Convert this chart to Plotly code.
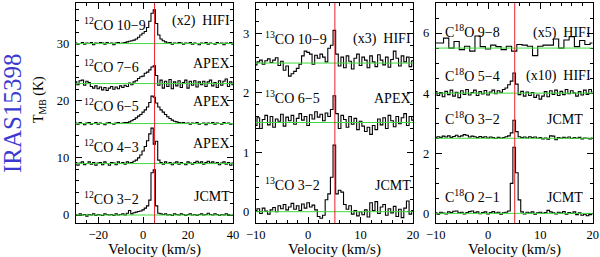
import numpy as np
import plotly.graph_objects as go

# ---------------- data ----------------
V_LSR = 5.1

# Panel 1 : 12CO, channels from -30 km/s, 1 km/s wide
co12_v0, co12_dv = -30.0, 1.0
co12_32 = [0.1, -0.1, 0.2, 0.0, 0.1, -0.2, 0.1, 0.0, 0.2, -0.1, 0.1, 0.0, -0.1, 0.2, 0.1, 0.0,
           0.1, -0.1, 0.2, 0.0, 0.1, 0.2, 0.0, 0.3, 0.8, 0.2, 0.4, 0.5, 0.6, 0.7, 0.9, 1.2,
           1.6, 2.6, 7.4, 7.9, 1.6, 0.3, 0.2, 0.1, 0.2, 0.0, 0.1, -0.1, 0.2, 0.1, 0.0, 0.2,
           0.1, -0.1, 0.1, 0.2, 0.0, 0.1, -0.1, 0.1, 0.2, 0.0, 0.1, 0.3, 0.1, 0.0, 0.2, 0.1,
           -0.1, 0.1, 0.0, 0.2, 0.1, -0.1, 0.0]
co12_43 = [0.2, -0.3, 0.1, 0.3, -0.2, 0.0, 0.3, -0.1, 0.2, -0.3, 0.1, 0.2, -0.2, 0.3, 0.0, -0.3,
           0.2, 0.1, -0.2, 0.3, 0.0, 0.2, -0.1, 0.3, 0.1, 0.2, 0.4, 0.6, 1.0, 1.5, 2.2, 3.0,
           4.0, 5.2, 6.2, 3.4, 3.9, 0.6, 0.2, -0.1, 0.3, 0.0, 0.2, -0.2, 0.1, 0.3, -0.1, 0.2,
           0.0, -0.2, 0.3, 0.1, -0.1, 0.2, 0.4, 0.1, 0.3, -0.1, 0.2, 0.4, 0.1, 0.3, 0.0, 0.2,
           -0.2, 0.1, 0.3, -0.1, 0.2, -0.3, 0.1]
co12_65 = [0.1, -0.1, 0.2, 0.0, -0.2, 0.1, 0.2, -0.1, 0.0, 0.2, -0.1, 0.1, 0.0, -0.2, 0.1, 0.2,
           0.0, -0.1, 0.1, 0.2, 0.0, 0.1, 0.2, 0.2, 0.3, 0.5, 0.7, 1.0, 1.3, 1.6, 2.0, 2.4,
           2.9, 3.7, 4.8, 4.6, 3.6, 2.9, 2.4, 2.0, 1.6, 1.2, 0.9, 0.6, 0.4, 0.3, 0.2, 0.1,
           0.2, 0.0, 0.1, -0.1, 0.1, 0.0, 0.2, -0.1, 0.0, 0.1, -0.2, 0.1, 0.0, 0.2, -0.1, 0.1,
           0.0, -0.1, 0.2, 0.0, 0.1, -0.1, 0.0]
co12_76 = [0.3, -0.2, 0.5, 0.6, -0.3, 0.4, 0.2, -0.5, -0.8, -0.4, -0.9, -0.6, -1.1, -0.7, -1.2, -0.8,
           -0.5, -1.0, -0.6, -0.9, -0.4, -0.7, -0.3, -0.5, 0.1, -0.2, 0.3, 0.5, 0.9, 1.2, 1.3, 1.8,
           2.0, 2.4, 2.9, 3.1, 1.4, -0.3, 0.6, -0.8, 0.4, -0.5, 0.7, -0.9, 0.3, -0.4, 0.5, -0.7,
           0.2, 0.6, -0.8, 0.4, -0.3, 0.5, -0.6, 0.3, -0.2, 0.4, -0.5, 0.3, 0.6, -0.4, 0.2, -0.7,
           0.5, -0.3, 0.4, 0.8, -0.5, 0.3, -0.2]
co12_109 = [0.1, -0.1, 0.0, 0.2, -0.1, 0.1, 0.0, 0.2, -0.2, 0.1, 0.0, 0.2, 0.1, -0.1, 0.2, 0.0,
            0.1, -0.2, 0.1, 0.2, 0.0, 0.1, 0.2, 0.3, 0.4, 0.5, 0.6, 0.8, 1.1, 1.5, 1.8, 2.1,
            2.8, 3.9, 5.3, 5.9, 3.5, 1.5, 0.8, 0.5, 0.3, 0.1, 0.2, -0.1, 0.1, 0.0, 0.2, 0.1,
            -0.1, 0.1, 0.0, 0.2, -0.1, 0.1, 0.0, -0.2, 0.1, 0.0, 0.2, -0.1, 0.1, 0.0, -0.1, 0.2,
            0.0, 0.1, -0.2, 0.1, 0.0, 0.2, -0.1]
co12_offsets = [0, 9, 16, 23, 30]
co12_names = ["<sup>12</sup>CO 3−2", "<sup>12</sup>CO 4−3", "<sup>12</sup>CO 6−5",
              "<sup>12</sup>CO 7−6", "<sup>12</sup>CO 10−9"]
co12_tags = ["JCMT", "APEX", "APEX", "APEX", "(x2)  HIFI"]

# Panel 2 : 13CO, channels from -10 km/s, 0.5 km/s wide
co13_v0, co13_dv = -10.0, 0.5
co13_32 = [0.02, 0.05, -0.03, 0.06, 0.01, -0.04, 0.03, 0.07, 0.0, 0.1, 0.05, 0.12, 0.03, 0.08, 0.14, 0.04,
           0.1, 0.02, 0.13, 0.06, 0.15, 0.08, 0.11, 0.03, -0.08, -0.11, -0.06, 0.2, 0.3, 0.58, 1.12, 0.3,
           0.36, 0.33, 0.12, 0.04, 0.1, -0.04, 0.02, -0.07, 0.0, -0.05, 0.03, -0.09, 0.15, 0.02, 0.17, -0.03,
           0.08, 0.12, -0.06, 0.05, -0.02, 0.09, -0.08, 0.04, -0.1, 0.06, 0.18, -0.04, 0.02]
co13_65 = [-0.05, 0.08, -0.1, 0.05, 0.12, -0.04, 0.1, -0.08, 0.06, 0.02, 0.14, -0.06, 0.09, 0.03, 0.12, -0.03,
           0.07, 0.15, 0.04, 0.1, -0.05, 0.13, 0.06, 0.18, 0.09, 0.14, 0.03, 0.16, 0.1, 0.22, 0.45, 0.15,
           -0.1, 0.12, 0.05, -0.08, 0.1, -0.03, 0.07, -0.12, 0.02, -0.06, -0.15, -0.08, -0.2, -0.05, -0.12, 0.06,
           -0.04, 0.08, -0.1, 0.12, 0.03, -0.07, 0.1, -0.02, 0.08, 0.15, -0.05, 0.1, 0.04]
co13_109 = [-0.03, 0.02, 0.05, -0.02, 0.04, 0.07, 0.01, 0.05, 0.09, -0.04, 0.03, -0.12, -0.05, -0.22, -0.18, -0.14,
            -0.09, -0.02, 0.12, 0.2, 0.18, 0.15, -0.02, 0.13, 0.08, 0.15, 0.1, 0.02, 0.25, 0.3, 0.55, 0.15,
            -0.05, 0.1, -0.08, 0.12, 0.03, -0.1, 0.08, 0.15, -0.04, 0.1, 0.05, -0.08, 0.12, 0.02, -0.06, 0.14,
            0.05, -0.03, 0.1, -0.07, 0.06, 0.2, 0.08, -0.05, 0.12, 0.02, 0.1, -0.06, 0.04]
co13_offsets = [0, 1.5, 2.5]
co13_names = ["<sup>13</sup>CO 3−2", "<sup>13</sup>CO 6−5", "<sup>13</sup>CO 10−9"]
co13_tags = ["JCMT", "APEX", "(x3)  HIFI"]

# Panel 3 : C18O
c18o_v0, c18o_dv = -10.0, 0.5
c18o_21 = [0.02, -0.03, 0.04, 0.01, -0.02, 0.05, 0.03, 0.07, 0.08, 0.02, 0.04, -0.02, 0.03, 0.06, 0.08, 0.02,
           0.05, -0.01, 0.03, 0.05, -0.02, 0.03, 0.06, 0.01, 0.04, -0.03, 0.02, 0.04, 0.08, 1.0, 2.2, 1.35,
           0.45, 0.05, -0.02, 0.04, 0.01, 0.05, -0.03, 0.02, 0.04, 0.0, 0.03, 0.1, 0.05, 0.02, -0.02, 0.04,
           0.01, 0.06, -0.03, 0.03, 0.0, 0.05, -0.04, 0.02, -0.06, -0.03, -0.08, -0.04, -0.02]
c18o_32 = [0.02, 0.05, 0.03, 0.07, 0.04, 0.08, 0.03, 0.06, 0.1, 0.05, 0.08, 0.12, 0.1, 0.04, 0.07, 0.05,
           0.02, 0.06, 0.03, 0.05, 0.01, 0.04, 0.02, -0.01, 0.03, 0.0, 0.02, 0.05, 0.08, 0.18, 0.6, 0.22,
           0.05, 0.02, 0.04, 0.01, 0.05, 0.02, 0.04, 0.0, 0.02, -0.02, 0.01, -0.03, 0.08, 0.07, -0.05, 0.02,
           0.0, 0.03, 0.01, 0.04, -0.01, 0.02, 0.0, 0.03, -0.02, 0.01, 0.0, -0.02, 0.01]
c18o_54 = [0.05, -0.08, 0.02, -0.12, 0.06, -0.05, 0.1, -0.1, 0.03, -0.15, 0.08, -0.04, 0.12, -0.06, 0.02, 0.1,
           -0.08, 0.05, -0.03, 0.09, -0.06, 0.04, 0.1, -0.02, 0.08, 0.03, 0.12, 0.17, 0.28, 0.4, 0.67, 0.3,
           -0.05, 0.06, -0.1, 0.04, -0.08, 0.02, -0.14, -0.06, -0.2, -0.1, 0.05, -0.12, 0.08, -0.04, 0.1, -0.08,
           0.06, -0.05, 0.12, -0.02, 0.08, 0.0, -0.1, 0.05, -0.06, 0.1, -0.04, 0.12, 0.04]
c18o98_v0, c18o98_dv = -10.0, 1.0
c18o_98 = [0.17, 0.17, 0.33, 0.0, 0.22, -0.05, 0.06, -0.1, 0.4, 0.05, -0.03, 0.1, 0.05, -0.05, 0.06, -0.1,
           0.12, 0.1, 0.06, -0.25, 0.06, 0.1, 0.1, 0.3, 0.0, 0.27, 0.38, 0.05, 0.25, 0.12, 0.17]
c18o_offsets = [0, 2.5, 4, 5.5]
c18o_names = ["C<sup>18</sup>O 2−1", "C<sup>18</sup>O 3−2", "C<sup>18</sup>O 5−4", "C<sup>18</sup>O 9−8"]
c18o_tags = ["JCMT", "JCMT", "(x10)  HIFI", "(x5)  HIFI"]

# ---------------- figure ----------------
W, H = 600, 257
FONT = "Liberation Serif"
fig = go.Figure()

panels = [
    dict(ax="", v0=[co12_v0] * 5, dv=[co12_dv] * 5,
         specs=[co12_32, co12_43, co12_65, co12_76, co12_109], offs=co12_offsets,
         xr=[-30, 40], yr=[-1.4, 37.1], xd=[75.7, 233.0], xdt=20, xm=5, ydt=10, ym=2),
    dict(ax="2", v0=[co13_v0] * 3, dv=[co13_dv] * 3,
         specs=[co13_32, co13_65, co13_109], offs=co13_offsets,
         xr=[-10, 20], yr=[-0.19, 3.51], xd=[255.7, 413.0], xdt=10, xm=2, ydt=1, ym=0.2),
    dict(ax="3", v0=[c18o_v0, c18o_v0, c18o_v0, c18o98_v0], dv=[c18o_dv, c18o_dv, c18o_dv, c18o98_dv],
         specs=[c18o_21, c18o_32, c18o_54, c18o_98], offs=c18o_offsets,
         xr=[-10, 20], yr=[-0.32, 7.0], xd=[435.7, 592.7], xdt=10, xm=2, ydt=2, ym=0.5),
]

top_px, bot_px = 3.0, 223.0
for p in panels:
    xa, ya = "x" + p["ax"], "y" + p["ax"]
    for spec, off, v0, dv in zip(p["specs"], p["offs"], p["v0"], p["dv"]):
        vel = v0 + dv * np.arange(len(spec))
        fig.add_trace(go.Scatter(x=vel, y=np.array(spec) + off, mode="lines",
                                 line=dict(color="black", width=1.1, shape="hvh"),
                                 xaxis=xa, yaxis=ya, showlegend=False, hoverinfo="skip"))
        fig.add_shape(type="line", xref=xa + " domain", yref=ya, x0=0, x1=1, y0=off, y1=off,
                      line=dict(color="#3ddc3d", width=1), layer="above")
    fig.add_shape(type="line", xref=xa, yref=ya + " domain", x0=V_LSR, x1=V_LSR, y0=0, y1=1,
                  line=dict(color="#e8202a", width=1), layer="above")
    axcommon = dict(showline=True, linecolor="black", linewidth=1, mirror="allticks",
                    ticks="inside", ticklen=6, tickcolor="black", showgrid=False, zeroline=False,
                    tickfont=dict(family=FONT, size=12.5, color="black"), automargin=False)
    xkey = "xaxis" + p["ax"]
    ykey = "yaxis" + p["ax"]
    fig.update_layout(**{
        xkey: dict(range=p["xr"], domain=[p["xd"][0] / W, p["xd"][1] / W], anchor=ya,
                   dtick=p["xdt"], tick0=0, ticklabelstandoff=0,
                   minor=dict(dtick=p["xm"], ticks="inside", ticklen=3, tickcolor="black"),
                   **axcommon),
        ykey: dict(range=p["yr"], domain=[(H - bot_px) / H, (H - top_px) / H], anchor=xa,
                   dtick=p["ydt"], tick0=0, ticklabelstandoff=3,
                   minor=dict(dtick=p["ym"], ticks="inside", ticklen=3, tickcolor="black"),
                   **axcommon),
    })

# line labels (pixel positions of the text)
def label(text, xpx, ypx, anchor):
    fig.add_annotation(text=text, xref="paper", yref="paper", x=xpx / W, y=1 - ypx / H,
                       xanchor=anchor, yanchor="middle", showarrow=False,
                       font=dict(family=FONT, size=14, color="black"))

left_pos = [
    (82, [198, 146, 105, 66, 24], co12_names),
    (263, [184, 97, 38], co13_names),
    (443, [196, 118, 75, 31], c18o_names),
]
right_pos = [
    (232, [196, 143, 102, 63, 21], co12_tags),
    (413, [185, 98, 39], co13_tags),
    (593, [197, 119, 76, 33], c18o_tags),
]
for xpx, ys, names in left_pos:
    for y, n in zip(ys, names):
        label(n, xpx, y, "left")
for xpx, ys, tags in right_pos:
    for y, t in zip(ys, tags):
        xx = xpx - 8 if t == "JCMT" and xpx == 593 else xpx
        label(t, xx, y, "right")

for xd in [(75.7 + 233.0) / 2, (255.7 + 413.0) / 2, (435.7 + 592.7) / 2]:
    fig.add_annotation(text="Velocity (km/s)", xref="paper", yref="paper", x=xd / W, y=1 - 249.5 / H,
                       xanchor="center", yanchor="middle", showarrow=False,
                       font=dict(family=FONT, size=15, color="black"))

fig.add_annotation(text="T<sub>MB</sub> (K)", xref="paper", yref="paper", x=40 / W, y=1 - 100 / H,
                   xanchor="center", yanchor="middle", textangle=-90, showarrow=False,
                   font=dict(family=FONT, size=14, color="black"))
fig.add_annotation(text="IRAS15398", xref="paper", yref="paper", x=12 / W, y=1 - 114 / H,
                   xanchor="center", yanchor="middle", textangle=-90, showarrow=False,
                   font=dict(family=FONT, size=25, color="#3a3ad0"))

fig.update_layout(width=W, height=H, margin=dict(l=0, r=0, t=0, b=0),
                  paper_bgcolor="white", plot_bgcolor="white")
fig.write_html("out.html", config={"displayModeBar": False},
               post_script="document.body.style.margin='0';document.body.style.padding='0';"
                           "document.documentElement.style.overflow='hidden';")
